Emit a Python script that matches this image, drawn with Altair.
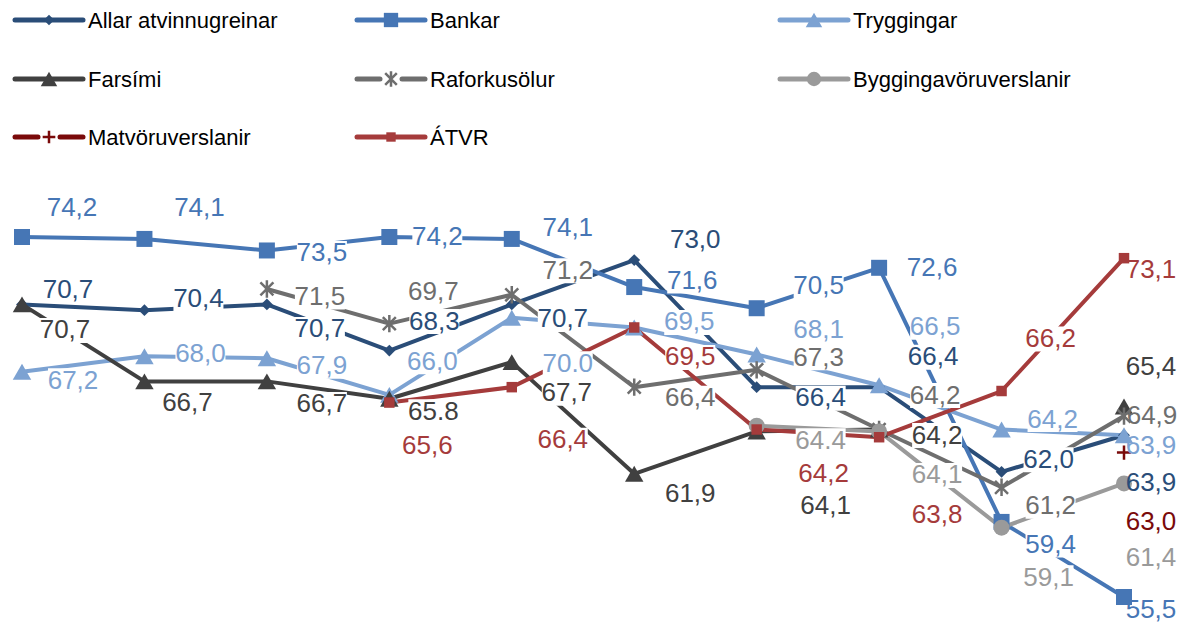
import altair as alt
import pandas as pd

# ---------------- data ----------------
periods = list(range(10))

series_names = ["Allar atvinnugreinar", "Bankar", "Tryggingar", "Farsími",
                "Raforkusölur", "Byggingavöruverslanir", "Matvöruverslanir", "ÁTVR"]

allar = [70.7, 70.4, 70.7, 68.3, 70.7, 73.0, 66.4, 66.4, 62.0, 63.9]
bankar = [74.2, 74.1, 73.5, 74.2, 74.1, 71.6, 70.5, 72.6, 59.4, 55.5]
tryggingar = [67.2, 68.0, 67.9, 66.0, 70.0, 69.5, 68.1, 66.5, 64.2, 63.9]
farsimi = [70.7, 66.7, 66.7, 65.8, 67.7, 61.9, 64.1, 64.2, None, 65.4]
raforka = [None, None, 71.5, 69.7, 71.2, 66.4, 67.3, 64.2, 61.2, 64.9]
bygg = [None, None, None, None, None, None, 64.4, 64.1, 59.1, 61.4]
matvoru = [None, None, None, None, None, None, None, None, None, 63.0]
atvr = [None, None, None, 65.6, 66.4, 69.5, 64.2, 63.8, 66.2, 73.1]

# data label texts as printed on the chart
lab_allar = ["70,7", "70,4", "70,7", "68,3", "70,7", "73,0", "66,4", "66,4", "62,0", "63,9"]
lab_bankar = ["74,2", "74,1", "73,5", "74,2", "74,1", "71,6", "70,5", "72,6", "59,4", "55,5"]
lab_trygg = ["67,2", "68,0", "67,9", "66,0", "70.0", "69,5", "68,1", "66,5", "64,2", "63,9"]
lab_farsimi = ["70,7", "66,7", "66,7", "65.8", "67,7", "61,9", "64,1", "64,2", None, "65,4"]
lab_raforka = [None, None, "71,5", "69,7", "71,2", "66,4", "67,3", "64,2", "61,2", "64,9"]
lab_bygg = [None, None, None, None, None, None, "64.4", "64,1", "59,1", "61,4"]
lab_matvoru = [None, None, None, None, None, None, None, None, None, "63,0"]
lab_atvr = [None, None, None, "65,6", "66,4", "69,5", "64,2", "63,8", "66,2", "73,1"]

values = [allar, bankar, tryggingar, farsimi, raforka, bygg, matvoru, atvr]
texts = [lab_allar, lab_bankar, lab_trygg, lab_farsimi, lab_raforka, lab_bygg, lab_matvoru, lab_atvr]

# ---------------- layout / style ----------------
W, H = 1169, 617
X0, X1 = 14, 1116
V_TOP, V_BOT = 74.2, 55.5
Y_TOP, Y_BOT = 229, 589
PX = (X1 - X0) / 9.0
PY = (Y_BOT - Y_TOP) / (V_TOP - V_BOT)

FONT = "Liberation Sans, Arial, sans-serif"
LABEL_SIZE = 26
LEGEND_SIZE = 22

ASTERISK = "M-0.75,-0.75L0.75,0.75M0.75,-0.75L-0.75,0.75M0,-1L0,1"
PLUS = "M-1,0L1,0M0,-1L0,1"
BOX = "M-1,-0.5L1,-0.5L1,0.5L-1,0.5Z"

styles = [
    dict(color="#2A4D78", shape="diamond", size=140, filled=True),
    dict(color="#4676B5", shape="square", size=256, filled=True),
    dict(color="#7CA2D2", shape="triangle-up", size=340, filled=True),
    dict(color="#404040", shape="triangle-up", size=340, filled=True),
    dict(color="#6E6E6E", shape=ASTERISK, size=300, filled=False),
    dict(color="#9A9A9A", shape="circle", size=256, filled=True),
    dict(color="#7A0A0A", shape=PLUS, size=200, filled=False),
    dict(color="#A53B3B", shape="square", size=110, filled=True),
]

# label placement offsets (pixels from the point), per series
R = 27  # horizontal offset of the labels at the last period
offsets = [
    [(46, -14), (54, -11), (53, 25), (45, -29), (51, 15), (61, -20), (64, 11), (54, -30), (47, -12), (R, 48)],
    [(50, -29), (55, -31), (55, 3), (48, 0), (56, -11), (58, -6), (62, -22), (53, 0), (49, 23), (R, 13)],
    [(51, 9), (56, -2), (55, 8), (43, -33), (56, 46), (55, -5), (62, -24), (56, -58), (51, -10), (R, 11)],
    [(43, 26), (43, 22), (55, 23), (44, 13), (55, 31), (56, 20), (69, 75), (58, 6), (0, 0), (R, -39)],
    [(0, 0), (0, 0), (53, 8), (44, -32), (56, -24), (56, 11), (62, -12), (56, -34), (49, 19), (R + 1, 0)],
    [(0, 0)] * 6 + [(64, 15), (58, 44), (47, 50), (R, 75)],
    [(0, 0)] * 9 + [(R, 69)],
    [(0, 0), (0, 0), (0, 0), (38, 43), (51, 53), (56, 30), (67, 44), (58, 78), (49, -52), (R, 12)],
]

xscale = alt.Scale(domain=[0, 9], range=[X0, X1], nice=False, zero=False)
yscale = alt.Scale(domain=[V_BOT, V_TOP], range=[Y_BOT, Y_TOP], nice=False, zero=False)

line_layers = []
point_layers = []

# ---------------- series lines and markers ----------------
for name, vals, st in zip(series_names, values, styles):
    rows = []
    seg = 0
    for i, v in zip(periods, vals):
        if v is None:
            seg += 1
            continue
        rows.append({"i": i, "v": v, "seg": seg, "series": name})
    df = pd.DataFrame(rows)
    enc = dict(x=alt.X("i:Q", scale=xscale, axis=None),
               y=alt.Y("v:Q", scale=yscale, axis=None))
    if len(df) > 1:
        line_layers.append(alt.Chart(df).mark_line(color=st["color"], strokeWidth=4,
                                                   strokeJoin="round", strokeCap="round")
                           .encode(detail="seg:N", **enc))
    point_layers.append(alt.Chart(df).mark_point(shape=st["shape"], size=st["size"],
                                                 filled=st["filled"], color=st["color"],
                                                 opacity=1, strokeWidth=2.5)
                        .encode(**enc))

# ---------------- data labels with white boxes ----------------
lab_rows = []
for name, vals, txts, offs, st in zip(series_names, values, texts, offsets, styles):
    for i, v, t, (dx, dy) in zip(periods, vals, txts, offs):
        if v is None or t is None:
            continue
        lab_rows.append({"lx": i + dx / PX, "ly": v - dy / PY, "t": t, "c": st["color"]})
labels = pd.DataFrame(lab_rows)
lenc = dict(x=alt.X("lx:Q", scale=xscale, axis=None),
            y=alt.Y("ly:Q", scale=yscale, axis=None))
box_layer = alt.Chart(labels).mark_point(shape=BOX, size=2500, filled=True,
                                         color="white", opacity=1).encode(**lenc)
text_layer = alt.Chart(labels).mark_text(font=FONT, fontSize=LABEL_SIZE, align="center",
                                         baseline="middle") \
    .encode(text="t:N", color=alt.Color("c:N", scale=None), **lenc)

layers = line_layers + [box_layer] + point_layers + [text_layer]

# ---------------- legend (manual, 3 columns) ----------------
col_x = [7, 349, 772]
row_y = [12, 71, 129]
one = pd.DataFrame({"k": [0]})
for idx, (name, st) in enumerate(zip(series_names, styles)):
    c, r = idx % 3, idx // 3
    x0 = col_x[c]
    y0 = row_y[r]
    if st["filled"]:
        segs = [(x0, x0 + 68)]
    else:
        segs = [(x0, x0 + 23), (x0 + 45, x0 + 68)]
    for a, b in segs:
        layers.append(alt.Chart(one).mark_rule(color=st["color"], strokeWidth=5, strokeCap="round")
                      .encode(x=alt.value(a), x2=alt.value(b), y=alt.value(y0)))
    layers.append(alt.Chart(one).mark_point(shape=st["shape"], size=st["size"] * 0.8,
                                            filled=st["filled"], color=st["color"],
                                            opacity=1, strokeWidth=2.5)
                  .encode(x=alt.value(x0 + 34), y=alt.value(y0)))
    layers.append(alt.Chart(one).mark_text(font=FONT, fontSize=LEGEND_SIZE, align="left",
                                           baseline="middle", color="#000000")
                  .encode(x=alt.value(x0 + 73), y=alt.value(y0 + 1), text=alt.value(name)))

chart = alt.layer(*layers).properties(
    width=W, height=H,
    autosize=alt.AutoSizeParams(type="none"),
    padding=0,
).configure_view(stroke=None)

chart.save("out.html", embed_options={"renderer": "svg", "actions": False})
